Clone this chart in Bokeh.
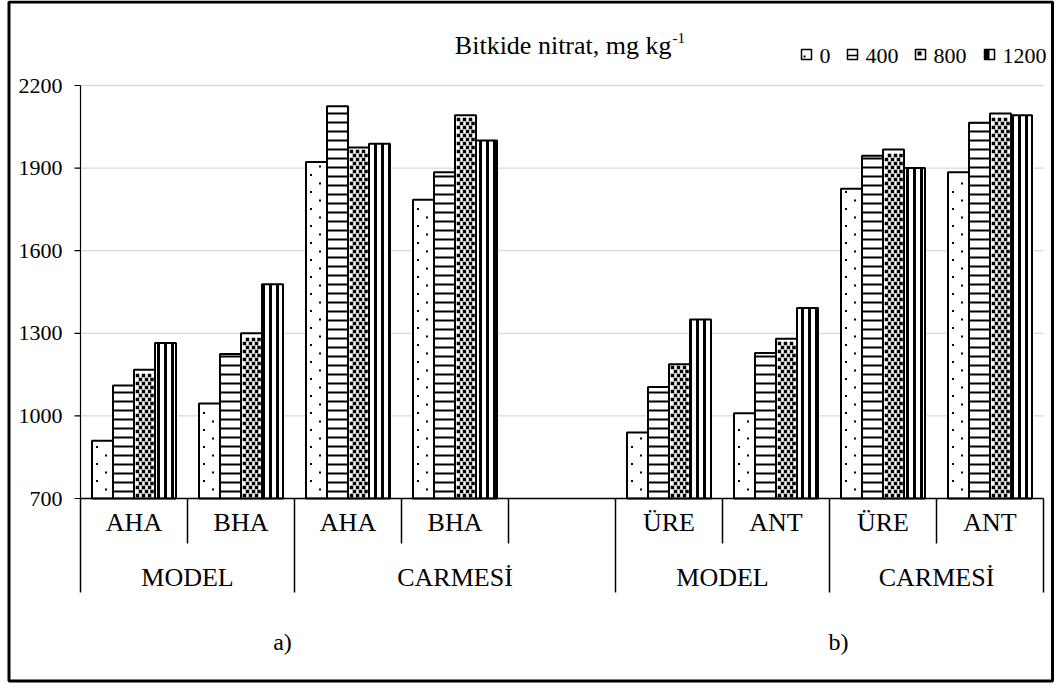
from bokeh.plotting import figure
from bokeh.models import Range1d, ColumnDataSource
from bokeh.core.properties import value
from bokeh.embed import file_html
from bokeh.resources import INLINE

# ---------------- data ----------------
doses = ["0", "400", "800", "1200"]
categories = ["AHA", "BHA", "AHA", "BHA", "ÜRE", "ANT", "ÜRE", "ANT"]
groups = ["MODEL", "MODEL", "CARMESİ", "CARMESİ", "MODEL", "MODEL", "CARMESİ", "CARMESİ"]
panels = ["a)", "a)", "a)", "a)", "b)", "b)", "b)", "b)"]
nitrate_0 = [910, 1045, 1922, 1785, 940, 1010, 1825, 1885]
nitrate_400 = [1110, 1225, 2125, 1885, 1105, 1228, 1945, 2065]
nitrate_800 = [1168, 1300, 1975, 2092, 1188, 1280, 1968, 2098]
nitrate_1200 = [1265, 1478, 1988, 2000, 1350, 1392, 1900, 2092]
y_ticks = [700, 1000, 1300, 1600, 1900, 2200]
title_main = "Bitkide nitrat, mg kg"
title_sup = "-1"

series = [nitrate_0, nitrate_400, nitrate_800, nitrate_1200]

# ---------------- layout (page pixels) ----------------
W, H = 1056, 683
SLOT = 107.0          # px per category slot
X0 = 80.0             # x of first slot
Y_LO, Y_HI = 498.0, 85.0   # y of axis min / max
V_LO, V_HI = y_ticks[0], y_ticks[-1]
PPU = (Y_LO - Y_HI) / (V_HI - V_LO)
BAR_PX = 21.0
BAR_W = BAR_PX / SLOT
FONT = value("Liberation Serif")


def dx(px):
    return (px - X0) / SLOT


def dy(py):
    return V_LO + (Y_LO - py) / PPU


def px_x(x):
    return X0 + x * SLOT


def px_y(v):
    return Y_LO - (v - V_LO) * PPU


# slot of each category: one empty slot between panels
slots = []
s = 0
for i, pn in enumerate(panels):
    if i > 0 and pn != panels[i - 1]:
        s += 1
    slots.append(s)
    s += 1
n_slots = s

p = figure(width=W, height=H, output_backend="svg", toolbar_location=None,
           x_range=Range1d(dx(0), dx(W)), y_range=Range1d(dy(H), dy(0)),
           x_axis_type=None, y_axis_type=None, min_border=0)
p.outline_line_color = None
p.background_fill_color = "white"
p.border_fill_color = "white"

# grid lines
grid_vals = [t for t in y_ticks if t > V_LO]
p.segment(x0=[0] * len(grid_vals), x1=[n_slots] * len(grid_vals), y0=grid_vals, y1=grid_vals,
          line_color="#d9d9d9", line_width=1.3)

# bars (hatch for 400 / 1200; 0 and 800 get dot/square fills below)
hatch_style = [
    dict(),
    dict(hatch_pattern="horizontal_line", hatch_scale=9, hatch_weight=2, hatch_color="black"),
    dict(),
    dict(hatch_pattern="vertical_line", hatch_scale=7, hatch_weight=3, hatch_color="black"),
]
bar_x = []
for k, vals in enumerate(series):
    xs = [sl + 0.5 + (k - 1.5) * BAR_W for sl in slots]
    bar_x.append(xs)
    src = ColumnDataSource(dict(x=xs, top=vals, cat=categories, grp=groups))
    p.vbar(x="x", top="top", bottom=V_LO, width=BAR_W, source=src,
           fill_color="white", line_color="black", line_width=2, **hatch_style[k])

# pattern fills derived from bar geometry
def pattern_points(xs, vals, row_step, first, offsets_even, offsets_odd):
    px_list, py_list = [], []
    for xc, v in zip(xs, vals):
        left = px_x(xc) - BAR_PX / 2
        top = px_y(v)
        r = 0
        y = Y_LO - first
        while y > top + 3:
            offs = offsets_even if r % 2 == 0 else offsets_odd
            for o in offs:
                px_list.append(dx(left + o))
                py_list.append(dy(y))
            r += 1
            y = Y_LO - first - r * row_step
    return px_list, py_list

dx0, dy0 = pattern_points(bar_x[0], nitrate_0, 8.5, 9, [14.0], [5.0])
p.scatter(x=dx0, y=dy0, marker="square", size=2, fill_color="black", line_color=None)
dx8, dy8 = pattern_points(bar_x[2], nitrate_800, 4.0, 3, [3.5, 9.5, 15.5], [6.5, 12.5, 18.0])
p.scatter(x=dx8, y=dy8, marker="square", size=3.5, fill_color="black", line_color=None)

# y axis line, ticks, labels
p.segment(x0=[0], x1=[0], y0=[V_LO], y1=[V_HI], line_color="black", line_width=1.2)
p.segment(x0=[dx(X0 - 6)] * len(y_ticks), x1=[0] * len(y_ticks), y0=y_ticks, y1=y_ticks,
          line_color="black", line_width=1.2)
p.text(x=[dx(62)] * len(y_ticks), y=y_ticks,
       text=[str(t) for t in y_ticks], text_font=FONT, text_font_size="22px",
       text_align="right", text_baseline="middle", text_color="black")

# category axis
p.segment(x0=[0], x1=[n_slots], y0=[V_LO], y1=[V_LO], line_color="black", line_width=1.5)

# group runs
runs = []
for i in range(len(categories)):
    key = (panels[i], groups[i])
    if not runs or runs[-1][0] != key:
        runs.append([key, slots[i], slots[i] + 1])
    else:
        runs[-1][2] = slots[i] + 1
for j in range(len(runs) - 1):
    runs[j][2] = runs[j + 1][1]
runs[-1][2] = n_slots

full_b = sorted(set([r[1] for r in runs] + [n_slots]))
short_b = [b for b in range(1, n_slots) if b not in full_b]
SHORT_END, FULL_END = 543.0, 592.0
p.segment(x0=short_b, x1=short_b, y0=[V_LO] * len(short_b), y1=[dy(SHORT_END)] * len(short_b),
          line_color="black", line_width=1.5)
p.segment(x0=full_b, x1=full_b, y0=[V_LO] * len(full_b), y1=[dy(FULL_END)] * len(full_b),
          line_color="black", line_width=1.5)

p.text(x=[sl + 0.5 for sl in slots], y=[dy(522)] * len(slots), text=categories,
       text_font=FONT, text_font_size="26px", text_align="center",
       text_baseline="middle", text_color="black")
p.text(x=[(r[1] + r[2]) / 2 for r in runs], y=[dy(577)] * len(runs), text=[r[0][1] for r in runs],
       text_font=FONT, text_font_size="26px", text_align="center",
       text_baseline="middle", text_color="black")

# panel labels
panel_names = []
for pn in panels:
    if pn not in panel_names:
        panel_names.append(pn)
panel_px = [282, 838]
p.text(x=[dx(v) for v in panel_px], y=[dy(641)] * len(panel_names), text=panel_names,
       text_font=FONT, text_font_size="24px", text_align="center",
       text_baseline="middle", text_color="black")

# title
TX = 671
p.text(x=[dx(TX)], y=[dy(45)], text=[title_main], text_font=FONT, text_font_size="26px",
       text_align="right", text_baseline="middle", text_color="black")
p.text(x=[dx(TX + 1)], y=[dy(37)], text=[title_sup], text_font=FONT, text_font_size="15px",
       text_align="left", text_baseline="middle", text_color="black")

# legend
icon_left = [801, 847, 915, 984]
IS = 10
ITOP = 49
for k, name in enumerate(doses):
    l = icon_left[k]
    p.quad(left=[dx(l)], right=[dx(l + IS)], top=[dy(ITOP)], bottom=[dy(ITOP + IS)],
           fill_color="white", line_color="black", line_width=1.5)
    if k == 0:
        p.quad(left=[dx(l + 2)], right=[dx(l + 4)], top=[dy(ITOP + 6)], bottom=[dy(ITOP + 8)],
               fill_color="black", line_color=None)
    elif k == 1:
        p.segment(x0=[dx(l)], x1=[dx(l + IS)], y0=[dy(ITOP + 6)], y1=[dy(ITOP + 6)],
                  line_color="black", line_width=1.5)
    elif k == 2:
        p.quad(left=[dx(l + 2)], right=[dx(l + 6)], top=[dy(ITOP + 2)], bottom=[dy(ITOP + 6)],
               fill_color="black", line_color=None)
    else:
        p.quad(left=[dx(l)], right=[dx(l + 5)], top=[dy(ITOP)], bottom=[dy(ITOP + IS)],
               fill_color="black", line_color=None)
    p.text(x=[dx(l + 18)], y=[dy(55)], text=[name], text_font=FONT, text_font_size="22px",
           text_align="left", text_baseline="middle", text_color="black")

# outer chart border
p.quad(left=[dx(8.5)], right=[dx(1052)], top=[dy(1.5)], bottom=[dy(680.5)],
       fill_color=None, line_color="black", line_width=3)

open("out.html", "w").write(file_html(p, INLINE))
